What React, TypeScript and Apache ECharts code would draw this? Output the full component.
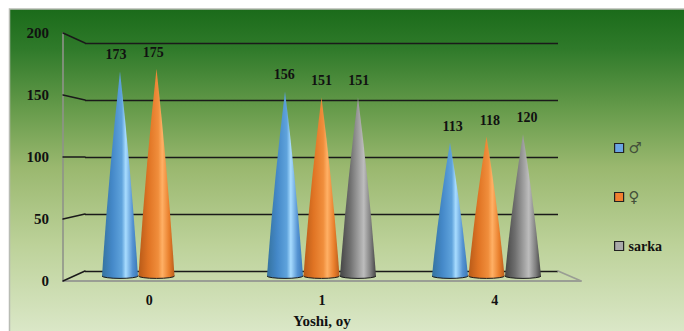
import React, { useEffect, useRef } from "react";
import * as echarts from "echarts";

const categories = ["0", "1", "4"];
const seriesNames = ["♂", "♀", "sarka"];
const male = [173, 156, 113];
const female = [175, 151, 118];
const sarka = [null, 151, 120];
const yTicks = { min: 0, max: 200, interval: 50 };

const SERIF = "'Liberation Serif', serif";

const ramp = (c: string[]) => ({
  type: "linear", x: 0, y: 0, x2: 1, y2: 0,
  colorStops: [0, 0.28, 0.55, 0.66, 0.85, 1].map((o, i) => ({ offset: o, color: c[i] })),
});
const fills = [
  ramp(["#35739f", "#4488c8", "#5fa3dc", "#a8dcff", "#5593d2", "#3a78b8"]),
  ramp(["#b85a18", "#e07424", "#f08e3c", "#ffb065", "#e97f2c", "#b85c1c"]),
  ramp(["#454545", "#6f6f6f", "#a6a6a6", "#bdbdbd", "#808080", "#454545"]),
];
const legendColors = ["#6aa5e4", "#f2802f", "#a9a9a9"];

const cone = (seriesIdx: number) => (params: any, api: any) => {
  const v = api.value(1);
  if (v == null || isNaN(v)) return null;
  const band = api.size([1, 0])[0];
  const off = (seriesIdx - 1) * band * 0.2212;
  const halfW = band * 0.109;
  const top = api.coord([api.value(0), v]);
  const base = api.coord([api.value(0), 0]);
  const cx = top[0] + off;
  const by = base[1] - 1;
  const ry = 2.4;
  const cy = top[1] + (by - top[1]) * 0.52;
  const body = `M${cx} ${top[1]} Q${cx + halfW * 0.65} ${cy} ${cx + halfW} ${by} A${halfW} ${ry} 0 0 1 ${cx - halfW} ${by} Q${cx - halfW * 0.65} ${cy} ${cx} ${top[1]} Z`;
  const rim = `M${cx + halfW} ${by} A${halfW} ${ry} 0 0 1 ${cx - halfW} ${by}`;
  const lx = cx + (cx - 322) * 0.02;
  return {
    type: "group",
    children: [
      { type: "path", shape: { pathData: body }, style: { fill: fills[seriesIdx] } },
      { type: "path", shape: { pathData: rim }, style: { fill: "none", stroke: "#1a1a1a", lineWidth: 1 } },
      { type: "text", x: lx, y: top[1] - 16.5, style: { text: String(v), fill: "#111", font: `bold 14px ${SERIF}`, align: "center", verticalAlign: "middle" } },
    ],
  };
};

export default function App() {
  const ref = useRef<HTMLDivElement>(null);
  useEffect(() => {
    document.body.style.margin = "0";
    const chart = echarts.init(ref.current!, undefined, { renderer: "svg" });
    const values = [male, female, sarka];
    const wall = (x1: number, y1: number, x2: number, y2: number, stroke = "#1a1a1a", lineWidth = 1.4) => ({
      type: "line", shape: { x1, y1, x2, y2 }, z: 1, style: { stroke, lineWidth, lineCap: "round" },
    });
    chart.setOption({
      animation: false,
      backgroundColor: "#ffffff",
      graphic: [
        {
          type: "rect", z: -10, shape: { x: 9.5, y: 9, width: 680, height: 330 },
          style: {
            stroke: "#b8bcb4", lineWidth: 1.5,
            fill: {
              type: "linear", x: 0, y: 0, x2: 0, y2: 1,
              colorStops: [
                { offset: 0, color: "#1b6b1a" },
                { offset: 0.12, color: "#2f7a2a" },
                { offset: 0.3, color: "#659a4a" },
                { offset: 0.48, color: "#9ab86f" },
                { offset: 0.72, color: "#bdd29a" },
                { offset: 1, color: "#dde9cb" },
              ],
            },
          },
        },
        wall(63, 33, 85, 43),
        wall(63, 95, 85, 100),
        wall(63, 157, 85, 157),
        wall(63, 219, 85, 214),
        wall(63, 281, 85, 271),
        wall(558, 271, 580, 280.5, "#9a9e94", 1.8),
      ],
      grid: [
        { left: 63, width: 518, top: 33, height: 248, outerBoundsMode: "none" },
        { left: 85, width: 473, top: 43, height: 228, outerBoundsMode: "none" },
        { left: 74, width: 495, top: 39, height: 238, outerBoundsMode: "none" },
      ],
      xAxis: [
        {
          type: "category", gridIndex: 0, data: categories,
          axisLine: { lineStyle: { color: "#9a9e94", width: 2 } }, axisTick: { show: false },
          axisLabel: { color: "#111", fontFamily: SERIF, fontWeight: "bold", fontSize: 14, margin: 12 },
          name: "Yoshi, oy", nameLocation: "middle", nameGap: 32,
          nameTextStyle: { color: "#111", fontFamily: SERIF, fontWeight: "bold", fontSize: 15 },
        },
        { type: "category", gridIndex: 1, data: categories, show: false },
        { type: "category", gridIndex: 2, data: categories, show: false },
      ],
      yAxis: [
        {
          type: "value", gridIndex: 0, ...yTicks,
          axisLine: { show: true, lineStyle: { color: "#8f938a", width: 1.6 } }, axisTick: { show: false },
          splitLine: { show: false },
          axisLabel: { color: "#111", fontFamily: SERIF, fontWeight: "bold", fontSize: 15, margin: 14 },
        },
        {
          type: "value", gridIndex: 1, ...yTicks,
          axisLine: { show: false }, axisTick: { show: false }, axisLabel: { show: false },
          splitLine: { show: true, lineStyle: { color: "#1a1a1a", width: 1.4 } },
        },
        { type: "value", gridIndex: 2, ...yTicks, show: false, splitLine: { show: false } },
      ],
      legend: {
        orient: "vertical", left: 614, top: 140, padding: 0, itemWidth: 9, itemHeight: 9, itemGap: 33, align: "left",
        selectedMode: false,
        data: seriesNames.map((name, i) => ({
          name, icon: "rect",
          itemStyle: { color: legendColors[i], borderColor: "#222", borderWidth: 1.2 },
          textStyle: i < 2
            ? { fontFamily: "'DejaVu Sans'", fontSize: 15, color: "#44503a", height: 16, lineHeight: 16 }
            : { fontFamily: SERIF, fontWeight: "bold", fontSize: 14, color: "#111", height: 16, lineHeight: 16 },
        })),
      },
      series: seriesNames.map((name, i) => ({
        type: "custom", name, xAxisIndex: 2, yAxisIndex: 2, renderItem: cone(i),
        itemStyle: { color: legendColors[i] }, clip: false, z: 5,
        encode: { x: 0, y: 1 },
        data: categories.map((_, k) => [k, values[i][k]]),
      })),
    });
    return () => chart.dispose();
  }, []);
  return <div ref={ref} style={{ width: 684, height: 331 }} />;
}
